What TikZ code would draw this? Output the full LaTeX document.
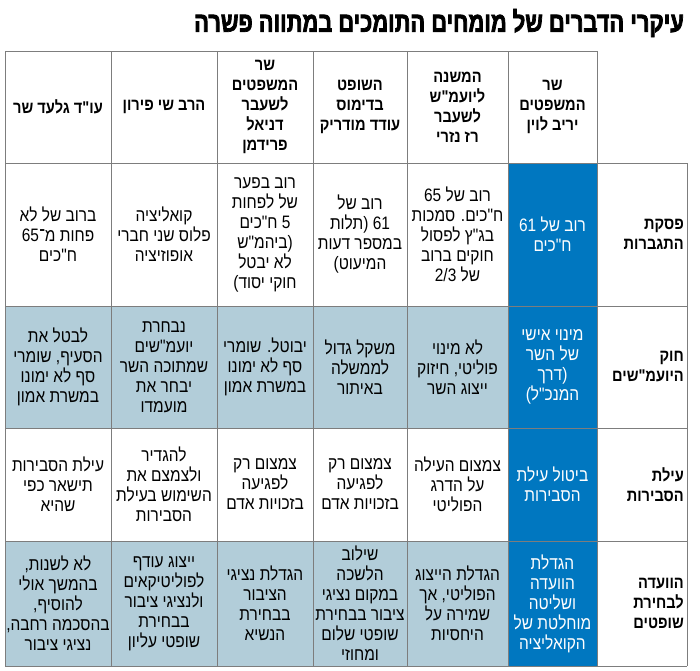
\documentclass[tikz,border=0pt]{standalone}
\usepackage{fontspec}
\usepackage{tikz}
\TeXXeTstate=1
\newfontfamily\heb[Script=Hebrew,FakeStretch=0.86]{Liberation Sans}
\newfontfamily\hebtitle[Script=Hebrew,FakeStretch=0.78,FakeBold=2.5]{Liberation Sans Bold}
\definecolor{govblue}{RGB}{0,119,192}
\definecolor{paleblue}{RGB}{178,205,217}
\definecolor{rulegray}{RGB}{125,125,125}
\newcommand{\rtline}[1]{\beginR #1\endR}

\begin{document}
\begin{tikzpicture}[x=1pt,y=-1pt,
  cell/.style={align=center,inner sep=0pt,font=\heb\fontsize{18}{20}\selectfont},
  headcell/.style={cell,font=\heb\bfseries\fontsize{17}{20}\selectfont},
  bluecell/.style={cell,text=white},
  rowlabel/.style={anchor=east,align=right,inner sep=0pt,font=\heb\bfseries\fontsize{17}{20}\selectfont},
  grid line/.style={draw=rulegray,line width=0.9pt}]

\fill[white] (0,0) rectangle (700,670);
\useasboundingbox (0,0) rectangle (700,670);

% Title
\node[anchor=east,inner sep=0pt,font=\hebtitle\fontsize{28}{30}\selectfont] (title) at (684,23)
  {\rtline{עיקרי הדברים של מומחים התומכים במתווה פשרה}};

% --- Shading ---
\fill[paleblue] (5,306) rectangle (508,428);
\fill[paleblue] (5,541) rectangle (508,666);
\fill[govblue] (508,163) rectangle (597,666);

% --- Grid ---
\draw[grid line] (5,51) rectangle (597,163);
\foreach \x in {111,217,313,407,508}
  \draw[grid line] (\x,51) -- (\x,163);
\foreach \y in {163,306,428,541,666}
  \draw[grid line] (5,\y) -- (687,\y);
\foreach \x in {5,111,217,313,407,508,597,687}
  \draw[grid line] (\x,163) -- (\x,666);

% --- Header row ---
\node[headcell] (hlevin) at (552.5,107) {\rtline{שר}\\\rtline{המשפטים}\\\rtline{יריב לוין}};
\node[headcell] (hnazari) at (457.5,107) {\rtline{המשנה}\\\rtline{ליועמ"ש}\\\rtline{לשעבר}\\\rtline{רז נזרי}};
\node[headcell] (hmodrik) at (360,107) {\rtline{השופט}\\\rtline{בדימוס}\\\rtline{עודד מודריק}};
\node[headcell] (hfriedmann) at (265,107) {\rtline{שר}\\\rtline{המשפטים}\\\rtline{לשעבר}\\\rtline{דניאל}\\\rtline{פרידמן}};
\node[headcell] (hpiron) at (164,107) {\rtline{הרב שי פירון}};
\node[headcell] (hsher) at (58,107) {\rtline{עו"ד גלעד שר}};

% --- Row labels ---
\node[rowlabel] (loverride) at (684,234.5) {\rtline{פסקת}\\\rtline{התגברות}};
\node[rowlabel] (ladvisors) at (684,367) {\rtline{חוק}\\\rtline{היועמ"שים}};
\node[rowlabel] (lreason) at (684,484.5) {\rtline{עילת}\\\rtline{הסבירות}};
\node[rowlabel] (lcommittee) at (684,603.5) {\rtline{הוועדה}\\\rtline{לבחירת}\\\rtline{שופטים}};

% --- Override clause ---
\node[bluecell] (olevin) at (552.5,234.5) {\rtline{רוב של 61}\\\rtline{ח"כים}};
\node[cell] (onazari) at (457.5,234.5) {\rtline{רוב של 65}\\\rtline{ח"כים. סמכות}\\\rtline{בג"ץ לפסול}\\\rtline{חוקים ברוב}\\\rtline{של 2/3}};
\node[cell] (omodrik) at (360,234.5) {\rtline{רוב של}\\\rtline{61 (תלות}\\\rtline{במספר דעות}\\\rtline{המיעוט)}};
\node[cell] (ofriedmann) at (265,234.5) {\rtline{רוב בפער}\\\rtline{של לפחות}\\\rtline{5 ח"כים}\\\rtline{(ביהמ"ש}\\\rtline{לא יבטל}\\\rtline{חוקי יסוד)}};
\node[cell] (opiron) at (164,234.5) {\rtline{קואליציה}\\\rtline{פלוס שני חברי}\\\rtline{אופוזיציה}};
\node[cell] (osher) at (58,234.5) {\rtline{ברוב של לא}\\\rtline{פחות מ־65}\\\rtline{ח"כים}};

% --- Legal advisors law ---
\node[bluecell] (alevin) at (552.5,367) {\rtline{מינוי אישי}\\\rtline{של השר}\\\rtline{(דרך}\\\rtline{המנכ"ל)}};
\node[cell] (anazari) at (457.5,367) {\rtline{לא מינוי}\\\rtline{פוליטי, חיזוק}\\\rtline{ייצוג השר}};
\node[cell] (amodrik) at (360,367) {\rtline{משקל גדול}\\\rtline{לממשלה}\\\rtline{באיתור}};
\node[cell] (afriedmann) at (265,367) {\rtline{יבוטל. שומרי}\\\rtline{סף לא ימונו}\\\rtline{במשרת אמון}};
\node[cell] (apiron) at (164,367) {\rtline{נבחרת}\\\rtline{יועמ"שים}\\\rtline{שמתוכה השר}\\\rtline{יבחר את}\\\rtline{מועמדו}};
\node[cell] (asher) at (58,367) {\rtline{לבטל את}\\\rtline{הסעיף, שומרי}\\\rtline{סף לא ימונו}\\\rtline{במשרת אמון}};

% --- Reasonableness ---
\node[bluecell] (rlevin) at (552.5,484.5) {\rtline{ביטול עילת}\\\rtline{הסבירות}};
\node[cell] (rnazari) at (457.5,484.5) {\rtline{צמצום העילה}\\\rtline{על הדרג}\\\rtline{הפוליטי}};
\node[cell] (rmodrik) at (360,484.5) {\rtline{צמצום רק}\\\rtline{לפגיעה}\\\rtline{בזכויות אדם}};
\node[cell] (rfriedmann) at (265,484.5) {\rtline{צמצום רק}\\\rtline{לפגיעה}\\\rtline{בזכויות אדם}};
\node[cell] (rpiron) at (164,484.5) {\rtline{להגדיר}\\\rtline{ולצמצם את}\\\rtline{השימוש בעילת}\\\rtline{הסבירות}};
\node[cell] (rsher) at (58,484.5) {\rtline{עילת הסבירות}\\\rtline{תישאר כפי}\\\rtline{שהיא}};

% --- Judicial selection committee ---
\node[bluecell] (clevin) at (552.5,603.5) {\rtline{הגדלת}\\\rtline{הוועדה}\\\rtline{ושליטה}\\\rtline{מוחלטת של}\\\rtline{הקואליציה}};
\node[cell] (cnazari) at (457.5,603.5) {\rtline{הגדלת הייצוג}\\\rtline{הפוליטי, אך}\\\rtline{שמירה על}\\\rtline{היחסיות}};
\node[cell] (cmodrik) at (360,603.5) {\rtline{שילוב}\\\rtline{הלשכה}\\\rtline{במקום נציגי}\\\rtline{ציבור בבחירת}\\\rtline{שופטי שלום}\\\rtline{ומחוזי}};
\node[cell] (cfriedmann) at (265,603.5) {\rtline{הגדלת נציגי}\\\rtline{הציבור}\\\rtline{בבחירת}\\\rtline{הנשיא}};
\node[cell] (cpiron) at (164,603.5) {\rtline{ייצוג עודף}\\\rtline{לפוליטיקאים}\\\rtline{ולנציגי ציבור}\\\rtline{בבחירת}\\\rtline{שופטי עליון}};
\node[cell] (csher) at (58,603.5) {\rtline{לא לשנות,}\\\rtline{בהמשך אולי}\\\rtline{להוסיף,}\\\rtline{בהסכמה רחבה,}\\\rtline{נציגי ציבור}};

\end{tikzpicture}
\end{document}
